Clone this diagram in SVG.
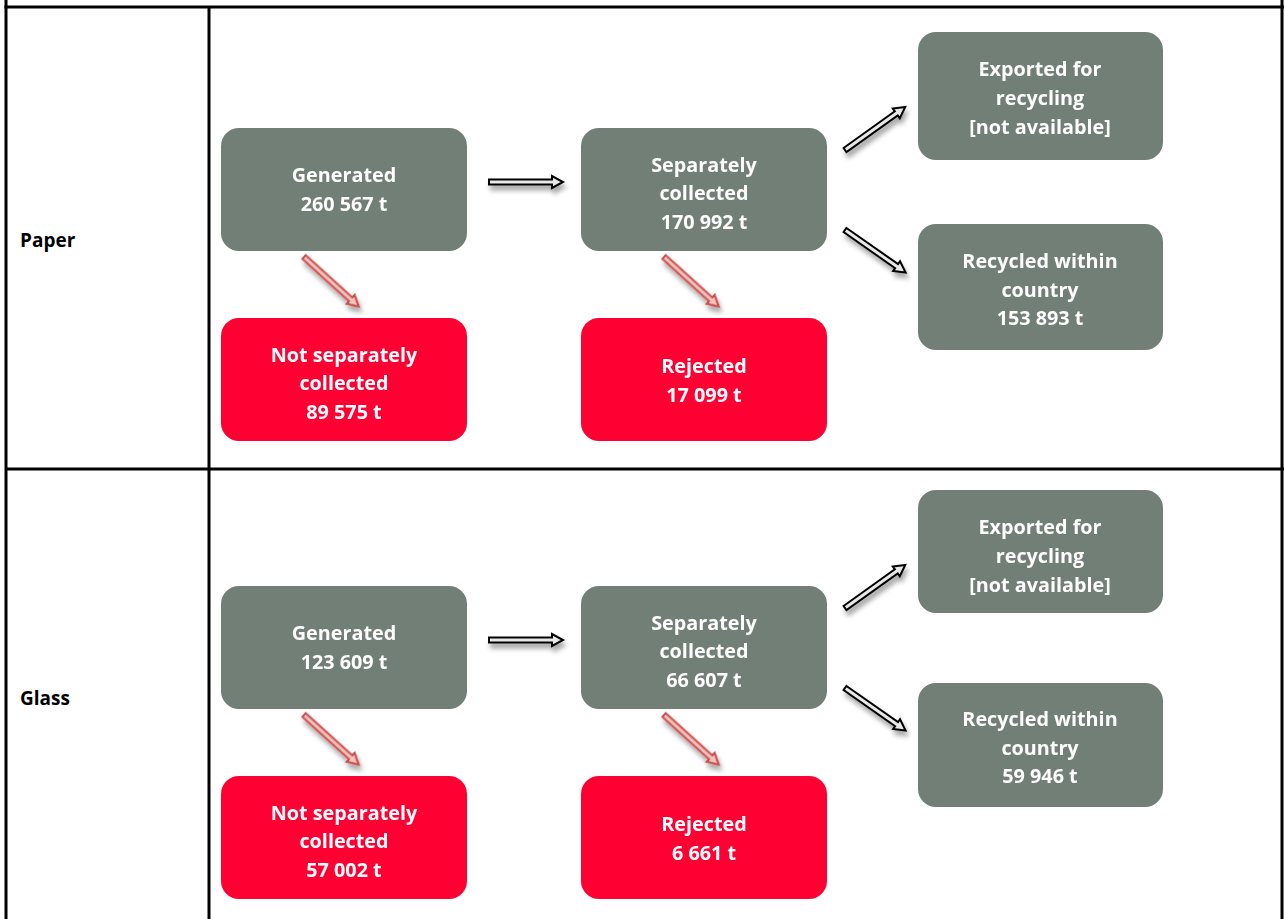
<svg xmlns="http://www.w3.org/2000/svg" width="1285" height="919" viewBox="0 0 1285 919">
<style>
.g{fill:#727f77}
.r{fill:#ff0033}
.t{font-family:"Open Sans","Liberation Sans",sans-serif;font-weight:bold;font-size:19.8px;fill:#fff;text-anchor:middle}
.lbl{font-family:"Open Sans","Liberation Sans",sans-serif;font-weight:bold;font-size:19px;fill:#000}
.grid{stroke:#000;stroke-width:3;fill:none}
.ab{fill:#e8e8e8;stroke:#000;stroke-width:2}
.ar{fill:#f6c2c0;stroke:#c9504c;stroke-width:2}
</style>
<defs>
<filter id="sh" x="-30%" y="-100%" width="160%" height="300%">
<feGaussianBlur in="SourceAlpha" stdDeviation="2.5"/>
<feOffset dx="2" dy="5" result="b"/>
<feComponentTransfer><feFuncA type="linear" slope="0.35"/></feComponentTransfer>
<feMerge><feMergeNode/><feMergeNode in="SourceGraphic"/></feMerge>
</filter>
<polygon id="arrow" points="0,-2.5 63,-2.5 63,-6 74,0 63,6 63,2.5 0,2.5"/>
</defs>
<rect width="1285" height="919" fill="#fff"/>
<g id="table">
<line class="grid" x1="4.5" y1="7" x2="1284" y2="7"/>
<line class="grid" x1="6" y1="0" x2="6" y2="919"/>
<line class="grid" x1="209" y1="7" x2="209" y2="919"/>
<line class="grid" x1="1282" y1="0" x2="1282" y2="919"/>
<line class="grid" x1="6" y1="469" x2="1284" y2="469"/>
<text class="lbl" x="20" y="247">Paper</text>
<text class="lbl" x="20" y="705">Glass</text>
</g>
<g id="connectors" filter="url(#sh)">
<use href="#arrow" class="ab" transform="translate(489,182)"/>
<use href="#arrow" class="ar" transform="translate(304,257) rotate(42.2)"/>
<use href="#arrow" class="ar" transform="translate(664,257) rotate(42.2)"/>
<use href="#arrow" class="ab" transform="translate(845,150) rotate(-35.5)"/>
<use href="#arrow" class="ab" transform="translate(845,230) rotate(35)"/>
<use href="#arrow" class="ab" transform="translate(489,640)"/>
<use href="#arrow" class="ar" transform="translate(304,715) rotate(42.2)"/>
<use href="#arrow" class="ar" transform="translate(664,715) rotate(42.2)"/>
<use href="#arrow" class="ab" transform="translate(845,608) rotate(-35.5)"/>
<use href="#arrow" class="ab" transform="translate(845,688) rotate(35)"/>
</g>
<g id="paper-generated"><rect class="g" x="221" y="128" width="246" height="123" rx="18"/><text class="t" x="344" y="182">Generated</text><text class="t" x="344" y="211">260 567 t</text></g>
<g id="paper-separately"><rect class="g" x="581" y="128" width="246" height="123" rx="18"/><text class="t" x="704" y="172">Separately</text><text class="t" x="704" y="200">collected</text><text class="t" x="704" y="229">170 992 t</text></g>
<g id="paper-not"><rect class="r" x="221" y="318" width="246" height="123" rx="18"/><text class="t" x="344" y="362">Not separately</text><text class="t" x="344" y="390">collected</text><text class="t" x="344" y="419">89 575 t</text></g>
<g id="paper-rejected"><rect class="r" x="581" y="318" width="246" height="123" rx="18"/><text class="t" x="704" y="373">Rejected</text><text class="t" x="704" y="402">17 099 t</text></g>
<g id="paper-exported"><rect class="g" x="918" y="32" width="245" height="128" rx="18"/><text class="t" x="1040" y="76">Exported for</text><text class="t" x="1040" y="105">recycling</text><text class="t" x="1040" y="134">[not available]</text></g>
<g id="paper-recycled"><rect class="g" x="918" y="224" width="245" height="126" rx="18"/><text class="t" x="1040" y="268">Recycled within</text><text class="t" x="1040" y="297">country</text><text class="t" x="1040" y="325">153 893 t</text></g>
<g id="glass-generated"><rect class="g" x="221" y="586" width="246" height="123" rx="18"/><text class="t" x="344" y="640">Generated</text><text class="t" x="344" y="669">123 609 t</text></g>
<g id="glass-separately"><rect class="g" x="581" y="586" width="246" height="123" rx="18"/><text class="t" x="704" y="630">Separately</text><text class="t" x="704" y="658">collected</text><text class="t" x="704" y="687">66 607 t</text></g>
<g id="glass-not"><rect class="r" x="221" y="776" width="246" height="123" rx="18"/><text class="t" x="344" y="820">Not separately</text><text class="t" x="344" y="848">collected</text><text class="t" x="344" y="877">57 002 t</text></g>
<g id="glass-rejected"><rect class="r" x="581" y="776" width="246" height="123" rx="18"/><text class="t" x="704" y="831">Rejected</text><text class="t" x="704" y="860">6 661 t</text></g>
<g id="glass-exported"><rect class="g" x="918" y="490" width="245" height="123" rx="18"/><text class="t" x="1040" y="534">Exported for</text><text class="t" x="1040" y="563">recycling</text><text class="t" x="1040" y="592">[not available]</text></g>
<g id="glass-recycled"><rect class="g" x="918" y="683" width="245" height="124" rx="18"/><text class="t" x="1040" y="726">Recycled within</text><text class="t" x="1040" y="755">country</text><text class="t" x="1040" y="783">59 946 t</text></g>
</svg>
